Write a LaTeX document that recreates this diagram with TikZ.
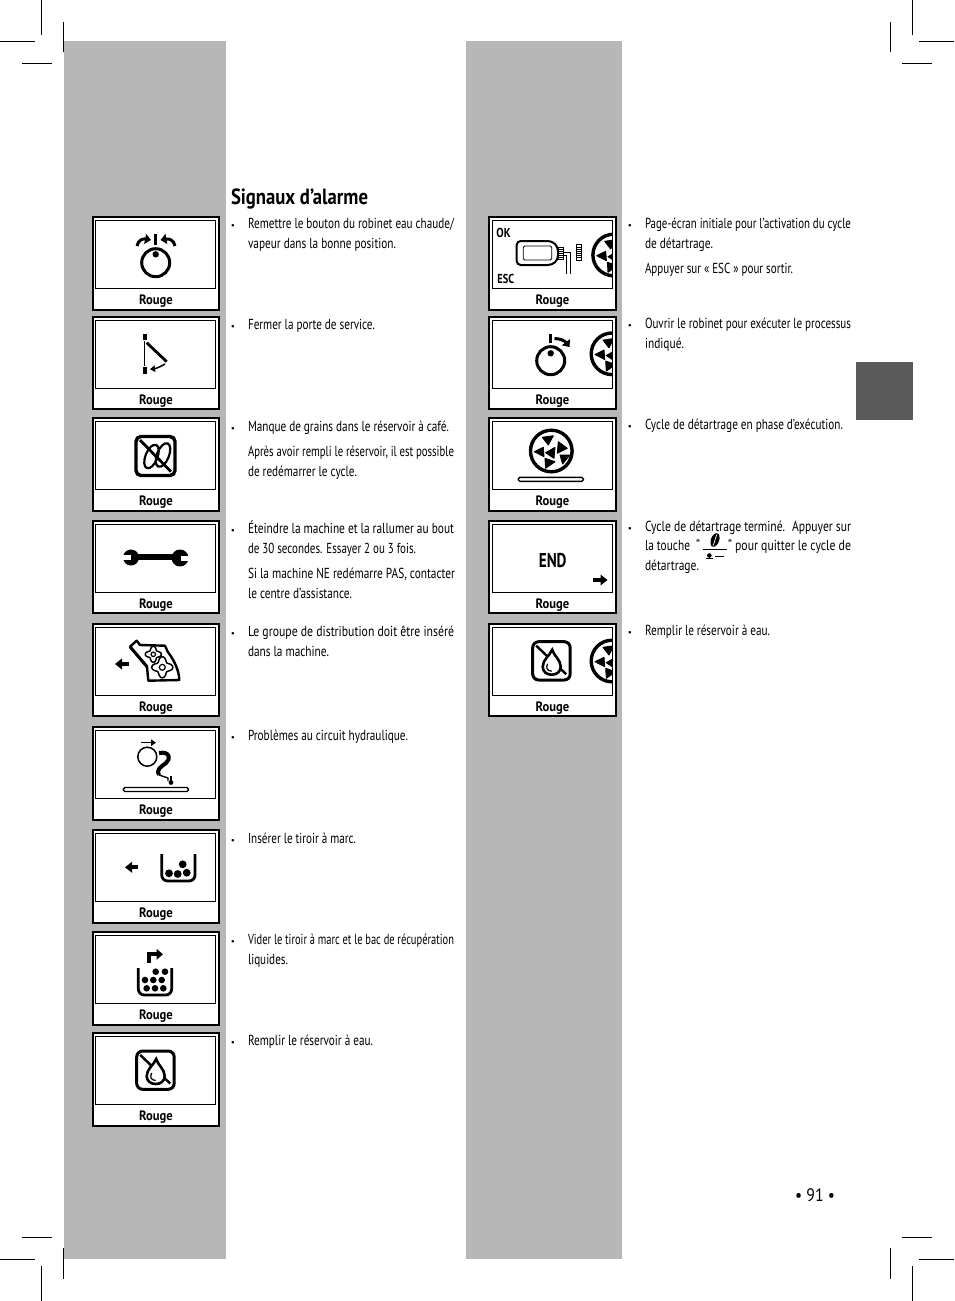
\documentclass[tikz,border=0pt]{standalone}
\usepackage{graphicx}
\usepackage{fontspec}
\setmainfont{PT Sans}
\usetikzlibrary{arrows.meta}
\definecolor{panelgray}{HTML}{B7B7B7}
\definecolor{tabgray}{HTML}{5A5A5A}
\newlength\fitw
\newcounter{linenum}
\newcommand\bodyf{\fontsize{14.5}{20}\selectfont}
\newcommand\boldf{\fontsize{13.6}{15}\selectfont\bfseries}
\newcommand\titlef{\fontsize{22}{24}\selectfont\bfseries}
\newcommand\pagef{\fontsize{18}{22}\selectfont}
% font command, x1, baseline y, x2, text
\newcommand\fitline[5]{%
  \pgfmathsetlength\fitw{(#4)-(#2)}%
  \stepcounter{linenum}%
  \node[txt] (L\thelinenum) at (#2,#3) {#1\resizebox{\fitw}{\height}{#5}};%
}
\newcommand\tl[4]{\fitline{\bodyf}{#1}{#2-0.3}{#3}{#4}}
\newcommand\bul[2]{%
  \stepcounter{linenum}%
  \node[txt,anchor=base] (B\thelinenum) at (#1,#2-0.3) {\fontsize{9}{10}\selectfont •};%
}
% name, outer-left, outer-right, inner-left, inner-right, top
\newcommand\alarmbox[6]{%
  \node[outerbox,minimum width=#3-#2,minimum height=92.3] (#1o) at (#2,#6+0.4) {};%
  \node[innerbox,minimum width=#5-#4,minimum height=68] (#1i) at (#4,#6+3.6) {};%
  \pgfmathsetmacro\lx{(#2+#3)/2}%
  \fitline{\boldf}{\lx-16.8}{#6+87.8}{\lx+16.8}{Rouge}%
}
% fat horizontal arrow: tail x, y, tip x
\newcommand\farrow[3]{%
  \pgfmathsetmacro\dirn{#3>#1?1:-1}%
  \draw[line width=4pt] (#1,#2) -- (#3-\dirn*4,#2);%
  \fill (#3,#2) -- (#3-\dirn*7,#2-5.5) -- (#3-\dirn*7,#2+5.5) -- cycle;%
}
% four-lobed flower: cx, cy, R
\newcommand\flower[3]{%
  \draw[line width=1.5pt,fill=white] plot[domain=0:360,samples=73,smooth] ({#1+#3*(0.8+0.2*cos(4*\x))*cos(\x)},{#2+#3*(0.8+0.2*cos(4*\x))*sin(\x)}) -- cycle;%
  \draw[line width=1.2pt] (#1,#2) circle (#3*0.28);%
}
% descaling wheel centred at cx, cy
\newcommand\wheel[2]{%
  \begin{scope}[shift={(#1,#2)}]
    \draw[line width=3.4pt] (0,0) circle (20.8);
    \filldraw[line width=.9pt,line join=round] (-9,-13.7) -- (2,-15.3) -- (-3,-6) -- cycle;
    \filldraw[line width=.9pt,line join=round] (7,-9.3) -- (16,-2.7) -- (6,2.3) -- cycle;
    \filldraw[line width=.9pt,line join=round] (8.7,4) -- (18.7,4) -- (11.3,13) -- cycle;
    \filldraw[line width=.9pt,line join=round] (-6.3,7.3) -- (3.7,10.7) -- (-5.7,17.3) -- cycle;
    \filldraw[line width=.9pt,line join=round] (-17,0.7) -- (-8,-3.7) -- (-7.3,5.7) -- cycle;
    \filldraw[line width=.9pt,line join=round] (-5.7,1.7) -- (3.7,-3.7) -- (2.7,7.3) -- cycle;
  \end{scope}%
}
% no-water sign, origin at the square's top left
\newcommand\nowater[2]{%
  \begin{scope}[shift={(#1,#2)}]
    \draw[line width=3pt,rounded corners=6pt] (0,0) rectangle (37.5,38.3);
    \draw[line width=2.4pt] (3.5,4) -- (33.5,32.5);
    \draw[line width=2.6pt,fill=white] (19.5,8) .. controls (21,14) and (28,18) .. (28,25) .. controls (28,30) and (24,33) .. (19,33) .. controls (14,33) and (10,30) .. (10,25) .. controls (10,18) and (17,14) .. (19.5,8) -- cycle;
    \draw[line width=1.2pt] (15,22) .. controls (13,26) and (14,29) .. (19,29.5);
  \end{scope}%
}
% progress bar: x1, x2, y
\newcommand\pbar[3]{%
  \draw[line width=1.4pt,fill=white,rounded corners=1.5pt] (#1,#3-2) rectangle (#2,#3+2);%
}
\tikzset{
  txt/.style={inner sep=0pt,outer sep=0pt,anchor=base west,text=black},
  outerbox/.style={draw=black,line width=2pt,fill=white,anchor=north west,inner sep=0pt,outer sep=0pt},
  innerbox/.style={draw=black,line width=1pt,fill=white,anchor=north west,inner sep=0pt,outer sep=0pt},
  cropmark/.style={draw=black,line width=1pt},
  curvearrow/.style={line width=3pt,-{Triangle[length=6pt,width=10pt]}},
  thinarrow/.style={line width=1.5pt,-{Triangle[length=5pt,width=6.5pt]}},
}
\begin{document}
\begin{tikzpicture}[x=1pt,y=-1pt]
\useasboundingbox (0,0) rectangle (954,1301);
\fill[white] (0,0) rectangle (954,1301);
% panels
\fill[panelgray] (64,41) rectangle (226,1259);
\fill[panelgray] (466,41) rectangle (622,1259);
\fill[tabgray] (856,362) rectangle (913,420);
% crop marks
\foreach \a/\b/\c/\d in {41.5/0/41.5/35,63.5/22/63.5/52,0/41.5/35/41.5,22/63.5/52/63.5,
  912.5/0/912.5/35,890.5/22/890.5/52,919/41.5/954/41.5,902/63.5/932/63.5,
  41.5/1266/41.5/1301,63.5/1248/63.5/1279,0/1259.5/35/1259.5,22/1237.5/52/1237.5,
  912.5/1266/912.5/1301,890.5/1248/890.5/1279,919/1259.5/954/1259.5,902/1237.5/932/1237.5}
  \draw[cropmark] (\a,\b) -- (\c,\d);
% boxes, left
\alarmbox{a}{93}{219}{95.5}{215.8}{217}
\alarmbox{b}{93}{219}{95.5}{215.8}{316.5}
\alarmbox{c}{93}{219}{95.5}{215.8}{418}
\alarmbox{d}{93}{219}{95.5}{215.8}{520.5}
\alarmbox{e}{93}{219}{95.5}{215.8}{623.5}
\alarmbox{f}{93}{219}{95.5}{215.8}{727}
\alarmbox{g}{93}{219}{95.5}{215.8}{830}
\alarmbox{h}{93}{219}{95.5}{215.8}{932}
\alarmbox{i}{93}{219}{95.5}{215.8}{1033}
% boxes, right
\alarmbox{p}{489}{616}{492.3}{612.3}{217}
\alarmbox{q}{489}{616}{492.3}{612.3}{316.5}
\alarmbox{r}{489}{616}{492.3}{612.3}{418}
\alarmbox{s}{489}{616}{492.3}{612.3}{520.5}
\alarmbox{t}{489}{616}{492.3}{612.3}{623.5}
% icon 1: knob with two arrows
\draw[line width=3pt] (155.7,262.7) circle (14);
\fill (155.7,254.3) circle (3.2);
\draw[line width=3.4pt] (155.7,234) -- (155.7,245);
\draw[curvearrow] (137,246) .. controls (138,240) and (143,238.5) .. (151,240);
\draw[curvearrow] (175,246) .. controls (174,240) and (169,238.5) .. (160.5,240);
% icon 2: door
\draw[line width=3.4pt] (145,333.5) -- (145,340);
\draw[line width=1.1pt] (144.5,341) -- (144.5,366);
\draw[line width=3.4pt] (145,366.5) -- (145,373.5);
\draw[line width=2.8pt] (146.7,342.7) -- (166.7,361.7);
\draw[thinarrow] (165,364) .. controls (160,367) and (156,368.5) .. (150,369.3);
% icon 3: no beans
\draw[line width=3.4pt,rounded corners=5pt] (136,436.5) rectangle (175,475.5);
\draw[line width=2.2pt,rotate around={-22:(151.5,456.5)}] (151.5,456.5) ellipse (6 and 12.5);
\draw[line width=2.2pt,rotate around={-22:(163,455)}] (163,455) ellipse (6 and 12.5);
\draw[line width=2.8pt] (140,440) -- (171,471.7);
% icon 4: spanner
\fill (131,557.5) circle (8);
\fill (180,558) circle (8.5);
\draw[line width=6pt] (134,556.5) -- (176,556.5);
\fill[white] (120,555) rectangle (130.5,560);
\fill[white] (180.5,555.5) rectangle (191,560.5);
% icon 5: brew group
\draw[line width=2.4pt,line join=round] (130,646.7) -- (136.7,640.7) -- (140,645) -- (165,645.7) -- (167.7,651.7) .. controls (174,660) and (179,670) .. (179.3,680) -- (148.3,680.7) -- (147,666.7) -- cycle;
\draw[line width=3pt] (130,646.7) -- (147,666.7);
\flower{153.3}{654.3}{8}
\flower{162.3}{667.3}{10.5}
\farrow{129}{664}{115}
% icon 6: hydraulic circuit
\draw[line width=1.5pt] (147.3,756.7) circle (9.5);
\draw[thinarrow] (141,742.7) -- (156,742.7);
\draw[line width=4pt,line join=round] (159,753) .. controls (170,751) and (171,759) .. (166,763) .. controls (161,767) and (156,769) .. (159,775);
\draw[line width=1.3pt] (159,775) -- (168,778) -- (168,781);
\fill (171,782.5) circle (2.4);
\draw[line width=1.2pt] (171,776) -- (171,783);
\pbar{123.3}{188.3}{789.5}
% icon 7: insert drawer
\farrow{137.7}{867.3}{125}
\draw[line width=2.8pt,rounded corners=6pt] (161.7,854) -- (161.7,881) -- (195,881) -- (195,854);
\foreach \p/\q in {169/873.3,177.7/874,186.7/872.7,182.7/864.3} \fill (\p,\q) circle (3.9);
% icon 8: empty drawer
\draw[line width=4pt] (149.3,962.5) -- (149.3,954.3) -- (158,954.3);
\fill (163,954.3) -- (156.5,948.8) -- (156.5,959.8) -- cycle;
\draw[line width=2.8pt,rounded corners=6pt] (138.3,968) -- (138.3,995) -- (171.7,995) -- (171.7,968);
\foreach \p/\q in {155.7/971.7,165/971.7,145/980,153.3/980,161.7/980,146.7/988.3,155/988.3,163.3/988.3} \fill (\p,\q) circle (3.3);
% icon 9: no water
\nowater{136.7}{1051}
% right icon 1: bottle
\begin{scope}
  \clip (492.3,220.6) rectangle (612.3,288.6);
  \draw[line width=2pt,rounded corners=4pt] (516.7,241) -- (552,241) -- (558,247) -- (558,259.5) -- (552,265) -- (516.7,265) -- cycle;
  \draw[line width=.8pt,rounded corners=1.5pt] (523.3,246) rectangle (551.7,260);
  \draw[line width=.8pt] (558.5,247.5) rectangle (563.5,259.5);
  \foreach \u in {249.5,251.5,253.5,255.5,257.5} \draw[line width=.6pt] (558.5,\u) -- (563.5,\u);
  \draw[line width=1.2pt] (563.5,252.5) -- (570.7,252.5) -- (570.7,273.5);
  \draw[line width=1.2pt] (563.5,255.5) -- (566.8,255.5) -- (566.8,273.5);
  \draw[line width=.8pt] (576,244.5) rectangle (581.7,260);
  \foreach \u in {247,249,251,253,255,257} \draw[line width=.8pt] (576,\u) -- (581.7,\u);
  \wheel{613.7}{255}
\end{scope}
\node[txt,anchor=center] (okl) at (503.5,232.7) {\fontsize{13}{14}\selectfont\bfseries\scalebox{.85}[1]{OK}};
\node[txt,anchor=center] (escl) at (505.8,278.5) {\fontsize{13}{14}\selectfont\bfseries\scalebox{.8}[1]{ESC}};
% right icon 2: knob turning
\begin{scope}
  \clip (492.3,320) rectangle (612.3,388);
  \draw[line width=3pt] (550.7,360.7) circle (14);
  \fill (550.7,353.3) circle (3.2);
  \draw[line width=3.4pt] (550.7,334) -- (550.7,343.3);
  \draw[curvearrow] (554.5,338.5) .. controls (560,338.5) and (565,341) .. (569.5,347);
  \wheel{612}{353.8}
\end{scope}
% right icon 3: wheel and bar
\wheel{551.3}{451}
\pbar{518.3}{583.3}{479.3}
% right icon 4: END
\node[txt,anchor=center] (endl) at (552.7,560.7) {\fontsize{20}{22}\selectfont\bfseries\scalebox{.76}[1]{END}};
\farrow{593.3}{580}{607.5}
% right icon 5: no water, wheel
\begin{scope}
  \clip (492.3,627) rectangle (612.3,695);
  \nowater{532.7}{641.7}
  \wheel{612}{661}
\end{scope}
% title and page number
\fitline{\titlef}{231}{204}{368}{Signaux d’alarme}
\fitline{\pagef}{795}{1201}{835}{• 91 •}
% left column text
\bul{233}{229}
\tl{248}{229}{454}{Remettre le bouton du robinet eau chaude/}
\tl{248}{249}{396}{vapeur dans la bonne position.}
\bul{233}{330}
\tl{248}{330}{375}{Fermer la porte de service.}
\bul{233}{432}
\tl{248}{432}{449}{Manque de grains dans le réservoir à café.}
\tl{248}{457}{454}{Après avoir rempli le réservoir, il est possible}
\tl{248}{477}{357}{de redémarrer le cycle.}
\bul{233}{534}
\tl{248}{534}{454}{Éteindre la machine et la rallumer au bout}
\tl{248}{554}{416}{de 30 secondes. Essayer 2 ou 3 fois.}
\tl{248}{579}{455}{Si la machine NE redémarre PAS, contacter}
\tl{248}{599}{352}{le centre d’assistance.}
\bul{233}{637}
\tl{248}{637}{454}{Le groupe de distribution doit être inséré}
\tl{248}{657}{329}{dans la machine.}
\bul{233}{741}
\tl{248}{741}{408}{Problèmes au circuit hydraulique.}
\bul{233}{844}
\tl{248}{844}{356}{Insérer le tiroir à marc.}
\bul{233}{945}
\tl{248}{945}{454}{Vider le tiroir à marc et le bac de récupération}
\tl{248}{965}{288}{liquides.}
\bul{233}{1046}
\tl{248}{1046}{373}{Remplir le réservoir à eau.}
% right column text
\bul{630}{229}
\tl{645}{229}{851}{Page-écran initiale pour l’activation du cycle}
\tl{645}{249}{713}{de détartrage.}
\tl{645}{274}{793}{Appuyer sur « ESC » pour sortir.}
\bul{630}{329}
\tl{645}{329}{851}{Ouvrir le robinet pour exécuter le processus}
\tl{645}{349}{684}{indiqué.}
\bul{630}{430}
\tl{645}{430}{843}{Cycle de détartrage en phase d’exécution.}
\bul{630}{532}
\tl{645}{532}{851}{Cycle de détartrage terminé.\hspace{.6em}Appuyer sur}
\tl{645}{551}{690}{la touche}
\tl{696}{551}{700}{“}
\tl{728}{551}{851}{“ pour quitter le cycle de}
\tl{645}{571}{699}{détartrage.}
\bul{630}{636}
\tl{645}{636}{770}{Remplir le réservoir à eau.}
% inline key symbol
\draw[line width=1pt,fill=black,rotate around={-20:(715,540)}] (715,540) ellipse (3.6 and 6.6);
\draw[white,line width=.7pt] (717,534.5) .. controls (715,538) and (715,542) .. (713,545.5);
\draw[line width=1pt] (703,549.3) -- (727,549.3);
\fill (709.3,555.5) circle (2.3);
\draw[line width=1pt] (705.5,558.5) -- (713,558.5);
\draw[line width=1.2pt] (715,556.7) -- (724,556.7);
\end{tikzpicture}
\end{document}
